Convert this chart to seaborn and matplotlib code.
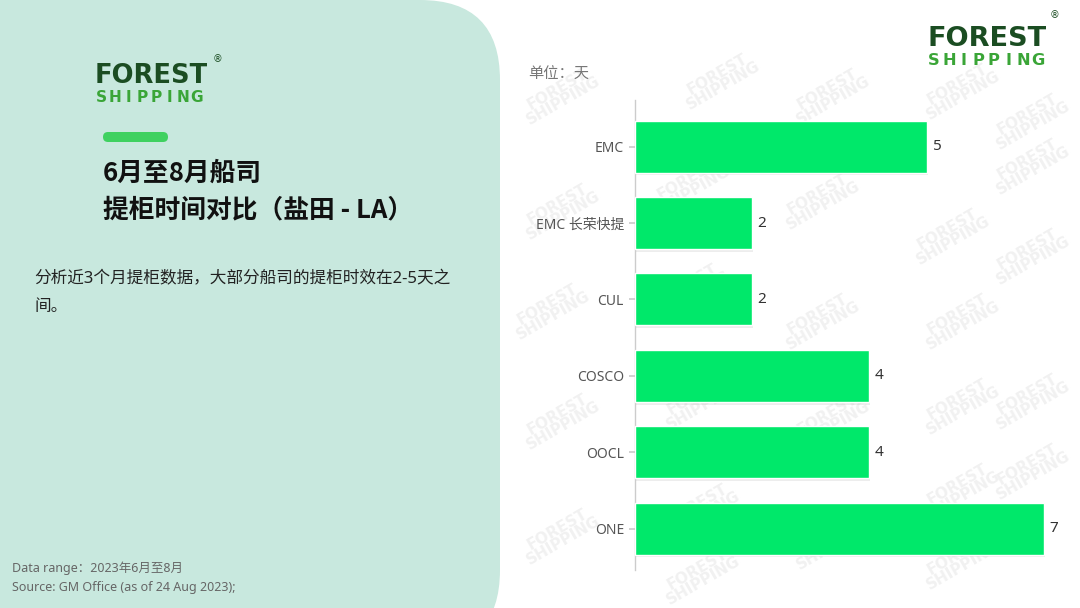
import numpy as np
import pandas as pd
import matplotlib
matplotlib.use('Agg')
import matplotlib.pyplot as plt
import matplotlib.patheffects as pe
from matplotlib.patches import FancyBboxPatch
import seaborn as sns

# Data
carriers = ['EMC', 'EMC 长荣快提', 'CUL', 'COSCO', 'OOCL', 'ONE']
days = [5, 2, 2, 4, 4, 7]

df = pd.DataFrame({'carrier': carriers, 'days': days})

sns.set_theme(style='white')
plt.rcParams['font.family'] = ['Noto Sans', 'Noto Sans CJK SC', 'DejaVu Sans']

W, H = 1080, 608
fig = plt.figure(figsize=(W / 100, H / 100), dpi=100)
fig.patch.set_facecolor('white')

# Background layer in pixel coordinates
bg = fig.add_axes([0, 0, 1, 1])
bg.set_xlim(0, W)
bg.set_ylim(H, 0)
bg.axis('off')

panel = FancyBboxPatch((-120, 0), 620, 650,
                       boxstyle='round,pad=0,rounding_size=80',
                       facecolor='#c8e8de', edgecolor='none', zorder=1)
bg.add_patch(panel)

# Watermarks
wm_pos = [(560, 95), (720, 80), (830, 95), (960, 90), (1030, 120),
          (560, 210), (690, 185), (820, 200), (950, 235), (1030, 165),
          (550, 310), (690, 290), (820, 320), (960, 320), (1030, 255),
          (560, 420), (700, 400), (830, 420), (960, 405), (1030, 400),
          (560, 535), (700, 510), (830, 540), (960, 490), (1030, 470),
          (700, 575), (960, 560)]
for x, y in wm_pos:
    bg.text(x, y, 'FOREST\nSHIPPING', rotation=30, ha='center', va='center',
            fontsize=11, fontweight='bold', color='#f1f1f1', linespacing=0.75,
            family='DejaVu Sans', zorder=2)


def logo(x, y, size, width):
    bg.text(x, y, 'FOREST', fontsize=size, fontweight='heavy', color='#1b4d22',
            family='DejaVu Sans', ha='left', va='bottom', zorder=5)
    letters = 'SHIPPING'
    step = width / (len(letters) - 1)
    for k, ch in enumerate(letters):
        bg.text(x + 6 + k * step, y + 1, ch, fontsize=size * 0.6,
                fontweight='bold', color='#3aa537', family='DejaVu Sans',
                ha='center', va='top', zorder=5)


logo(95, 89, 18.5, 96)
bg.text(213, 62, '®', fontsize=7, color='#1b4d22', family='DejaVu Sans', zorder=5)
logo(928, 52, 19.5, 104)
bg.text(1050, 18, '®', fontsize=7, color='#1b4d22', family='DejaVu Sans', zorder=5)

# Green accent pill
pill = FancyBboxPatch((103, 132), 65, 10, boxstyle='round,pad=0,rounding_size=5',
                      facecolor='#3fd160', edgecolor='none', zorder=5)
bg.add_patch(pill)

title_font = ['Noto Sans CJK SC', 'DejaVu Sans']
bg.text(103, 173, '6月至8月船司', fontsize=18.5, fontweight='bold', color='#111111',
        va='center', ha='left', family=title_font, zorder=5)
bg.text(103, 210, '提柜时间对比（盐田 - LA）', fontsize=18.5, fontweight='bold',
        color='#111111', va='center', ha='left', family=title_font, zorder=5)

bg.text(34, 279, '分析近3个月提柜数据，大部分船司的提柜时效在2-5天之', fontsize=12,
        color='#222222', va='center', ha='left', zorder=5)
bg.text(34, 307, '间。', fontsize=12, color='#222222', va='center', ha='left', zorder=5)

bg.text(12, 568, 'Data range：2023年6月至8月', fontsize=9, color='#666666',
        va='center', ha='left', zorder=5)
bg.text(12, 587, 'Source: GM Office (as of 24 Aug 2023);', fontsize=9,
        color='#666666', va='center', ha='left', zorder=5)

bg.text(528, 75, '单位：天', fontsize=11, color='#777777', va='center',
        ha='left', zorder=5)

# Bar chart
left = 635 / W
bottom = 1 - 570 / H
top = 1 - 100 / H
ax = fig.add_axes([left, bottom, 1 - left, top - bottom])
ax.patch.set_alpha(0)

sns.barplot(data=df, x='days', y='carrier', orient='h', color='#00e86a',
            saturation=1, width=0.68, ax=ax, zorder=3)
for p in ax.patches:
    p.set_path_effects([pe.SimplePatchShadow(offset=(1, -2), shadow_rgbFace='#888888',
                                             alpha=0.15), pe.Normal()])

ax.set_xlim(0, 445 / 58.4)
ax.set_ylim(5.54, -0.61)
ax.set_xlabel('')
ax.set_ylabel('')
ax.set_xticks([])
for s in ['top', 'right', 'bottom']:
    ax.spines[s].set_visible(False)
ax.spines['left'].set_color('#cccccc')
ax.spines['left'].set_linewidth(1)
ax.tick_params(axis='y', length=4, color='#cccccc', labelsize=10,
               labelcolor='#555555', pad=4, left=True)

for i, v in enumerate(days):
    ax.text(v + 0.1, i, str(v), va='center', ha='left', fontsize=11,
            color='#333333', zorder=4)

fig.savefig('out.png', dpi=100)
